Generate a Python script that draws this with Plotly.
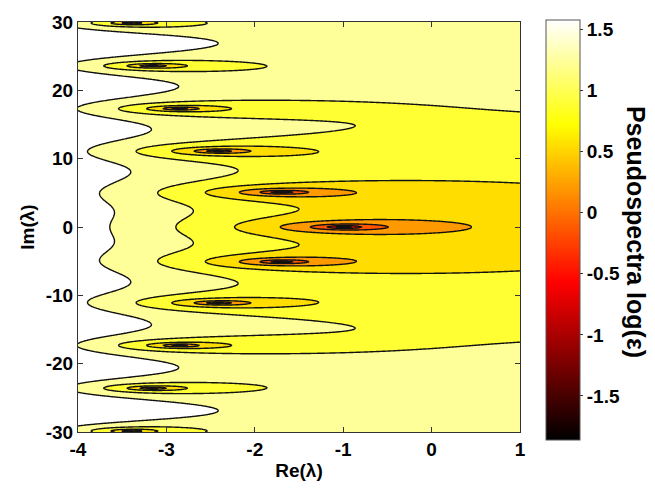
import numpy as np
import plotly.graph_objects as go

# ---- data -------------------------------------------------------------
# scalar delay equation  x'(t) = a*x(t) + b*x(t - tau); characteristic
# matrix M(lambda) = lambda - a - b*exp(-tau*lambda)
a_coef = -3.71828
b_coef = 1.0
tau = 1.0

re_range = [-4.0, 1.0]
im_range = [-30.0, 30.0]
n_re = 301
n_im = 601

# contour levels of log10(sigma_min(M(lambda)))
level_start = -1.516
level_step = 0.344
level_end = 1.58

cbar_min = -1.86
cbar_max = 1.58

x_tickvals = [-4, -3, -2, -1, 0, 1]
x_ticktext = ["-4", "-3", "-2", "-1", "0", "1"]
y_tickvals = [-30, -20, -10, 0, 10, 20, 30]
y_ticktext = ["-30", "-20", "-10", "0", "10", "20", "30"]
c_tickvals = [-1.5, -1, -0.5, 0, 0.5, 1, 1.5]
c_ticktext = ["-1.5", "-1", "-0.5", "0", "0.5", "1", "1.5"]

# ---- pseudospectrum field ---------------------------------------------
re_vals = np.linspace(re_range[0], re_range[1], n_re)
im_vals = np.linspace(im_range[0], im_range[1], n_im)
RE, IM = np.meshgrid(re_vals, im_vals)
lam = RE + 1j * IM
M = lam - a_coef - b_coef * np.exp(-tau * lam)
Z = np.log10(np.maximum(np.abs(M), 1e-4))

hot = [[0.0, "rgb(0,0,0)"], [0.375, "rgb(255,0,0)"],
       [0.75, "rgb(255,255,0)"], [1.0, "rgb(255,255,255)"]]

FONT = "Liberation Sans, Arial, Helvetica, sans-serif"
fs = 19

fig = go.Figure()
fig.add_trace(go.Contour(
    x=re_vals, y=im_vals, z=Z,
    autocontour=False,
    contours=dict(start=level_start, end=level_end + 0.01, size=level_step,
                  coloring="fill"),
    colorscale=hot,
    line=dict(color="#111111", width=1.4),
    showscale=False,
    hoverinfo="skip",
))
# colour bar (continuous 'hot' map)
fig.add_trace(go.Scatter(
    x=[-10, -10], y=[0, 0], mode="markers",
    marker=dict(color=[cbar_min, cbar_max], colorscale=hot, cmin=cbar_min,
                cmax=cbar_max, opacity=0, showscale=True,
                colorbar=dict(
                    thickness=34, thicknessmode="pixels",
                    len=420, lenmode="pixels",
                    x=(546 - 78) / 442, xanchor="left",
                    y=0.493, yanchor="middle",
                    outlinecolor="#555555", outlinewidth=1,
                    ticks="outside", ticklen=3, tickcolor="#333333",
                    tickvals=c_tickvals, ticktext=c_ticktext,
                    tickfont=dict(family=FONT, size=fs, color="black", weight="bold"),
                    xpad=0, ypad=0,
                )),
    hoverinfo="skip", showlegend=False,
))

axis_common = dict(
    showgrid=False, zeroline=False, showline=True, linecolor="#333333",
    linewidth=1, mirror="ticks", ticks="inside", ticklen=5, tickcolor="#333333",
    tickfont=dict(family=FONT, size=fs, color="black", weight="bold"),
)
fig.update_xaxes(range=re_range, tickvals=x_tickvals, ticktext=x_ticktext,
                 title=dict(text="Re(λ)", font=dict(family=FONT, size=fs, color="black", weight="bold"),
                            standoff=4),
                 **axis_common)
fig.update_yaxes(range=im_range, tickvals=y_tickvals, ticktext=y_ticktext,
                 title=dict(text="Im(λ)", font=dict(family=FONT, size=fs, color="black", weight="bold"),
                            standoff=6),
                 **axis_common)

fig.add_annotation(
    text="Pseudospectra log(ε)", textangle=90,
    x=(636 - 78) / 442, y=(433 - 229) / 418, xref="paper", yref="paper",
    xanchor="center", yanchor="middle",
    showarrow=False, font=dict(family=FONT, size=25, color="black", weight="bold"),
)

fig.update_layout(
    width=655, height=489,
    margin=dict(l=78, r=135, t=15, b=56),
    paper_bgcolor="white", plot_bgcolor="white",
    showlegend=False,
)
fig.write_html("out.html")
